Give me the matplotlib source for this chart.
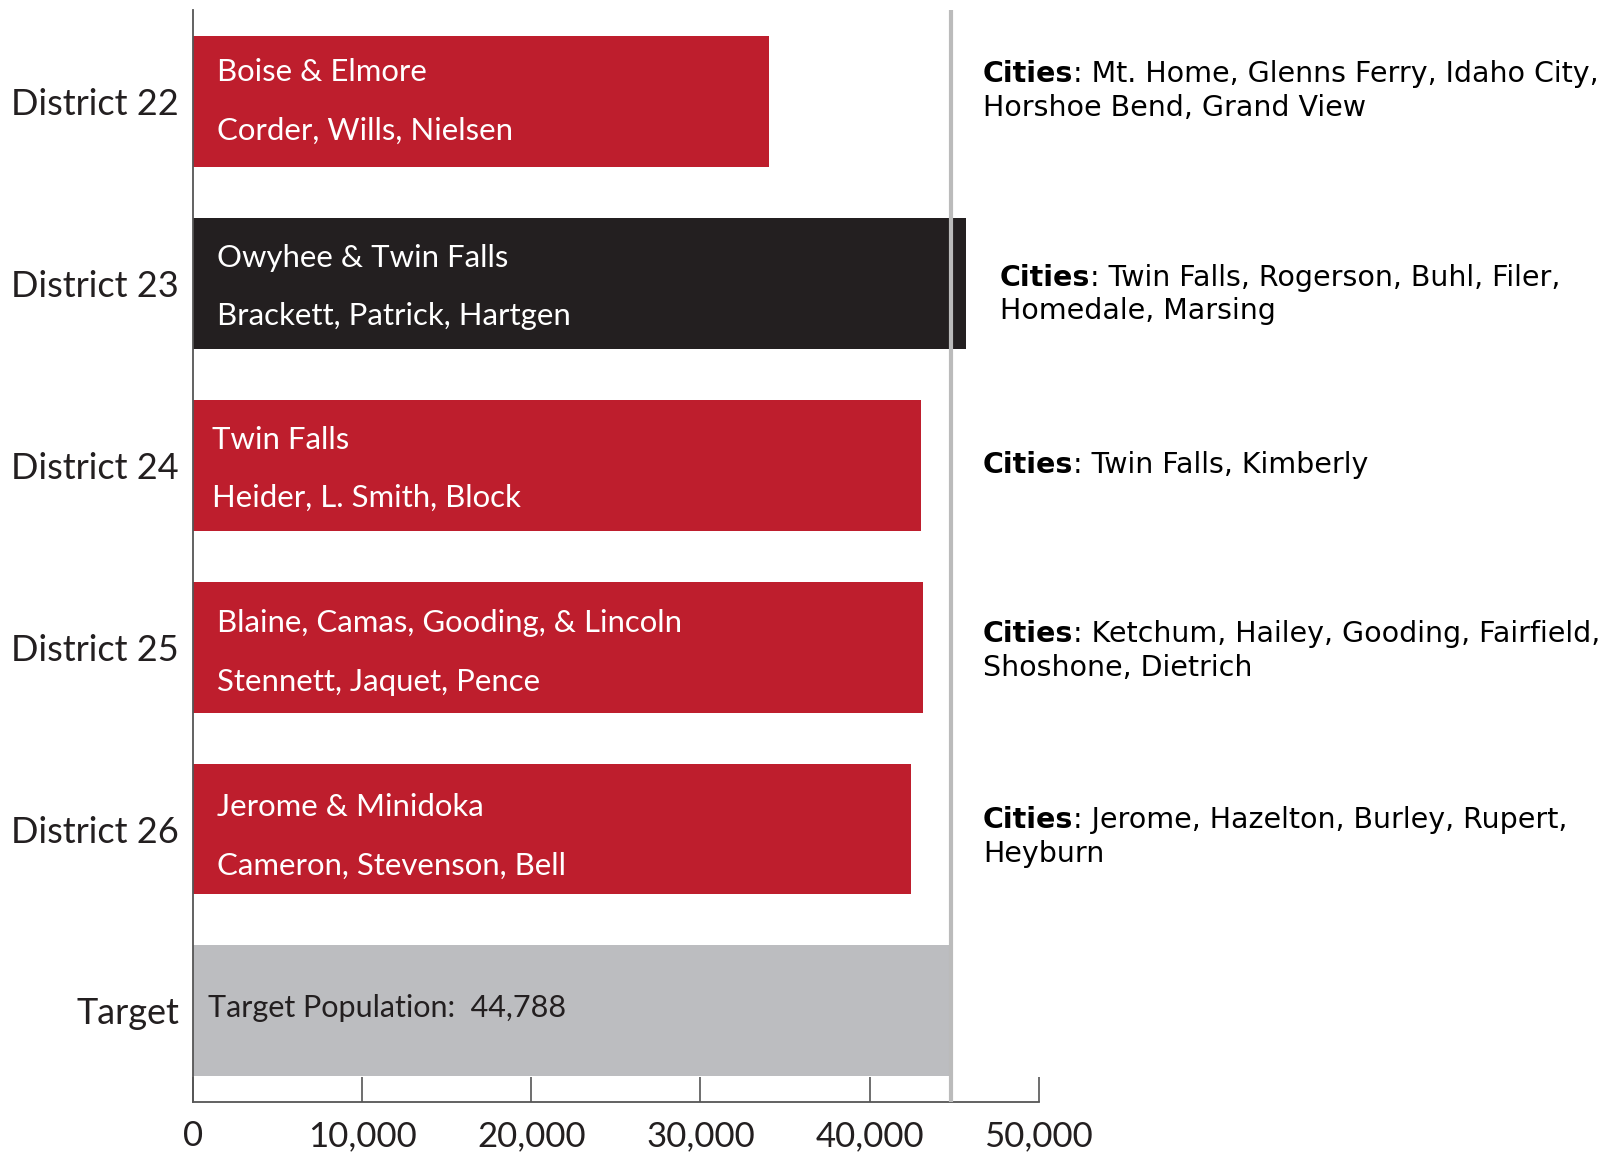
import matplotlib
matplotlib.use("Agg")
import matplotlib.pyplot as plt

# data
districts = ["District 22", "District 23", "District 24", "District 25", "District 26", "Target"]
population = [34050, 45700, 43050, 43150, 42450, 44788]
counties = ["Boise & Elmore", "Owyhee & Twin Falls", "Twin Falls",
            "Blaine, Camas, Gooding, & Lincoln", "Jerome & Minidoka"]
legislators = ["Corder, Wills, Nielsen", "Brackett, Patrick, Hartgen", "Heider, L. Smith, Block",
               "Stennett, Jaquet, Pence", "Cameron, Stevenson, Bell"]
cities = ["Mt. Home, Glenns Ferry, Idaho City,\nHorshoe Bend, Grand View",
          "Twin Falls, Rogerson, Buhl, Filer,\nHomedale, Marsing",
          "Twin Falls, Kimberly",
          "Ketchum, Hailey, Gooding, Fairfield,\nShoshone, Dietrich",
          "Jerome, Hazelton, Burley, Rupert,\nHeyburn"]
target = 44788
ticks = [0, 10000, 20000, 30000, 40000, 50000]
tick_labels = ["0", "10,000", "20,000", "30,000", "40,000", "50,000"]

narrow = ["Lato", "DejaVu Sans"]
red, black, grey = "#BE1E2D", "#231F20", "#BCBDC0"
colors = [red, black, red, red, red, grey]

fig = plt.figure(figsize=(16.08, 11.55), dpi=100)
ax = fig.add_axes([0.120, 0.046, 0.526, 0.945])

y = list(range(len(districts)))
ax.barh(y, population, height=0.72, color=colors, zorder=2)
ax.axvline(target, color="#BBBBBB", lw=3, zorder=3)
ax.set_xlim(0, 50000)
ax.set_ylim(5.5, -0.5)

# text inside bars
bar_shift = [0.0, 0.02, 0.02, 0.03, 0.04]
for i in range(len(counties)):
    x0 = 1150 if i == 2 else 1400
    ax.text(x0, i - 0.16 + bar_shift[i], counties[i], color="white", fontsize=22.4,
            family=narrow, va="center", ha="left", zorder=4)
    ax.text(x0, i + 0.16 + bar_shift[i], legislators[i], color="white", fontsize=22.4,
            family=narrow, va="center", ha="left", zorder=4)
ax.text(900, 4.983, "Target Population:  44,788", color="#231F20", fontsize=22,
        family=narrow, va="center", ha="left", zorder=4)

# cities text on the right
offsets = [-0.058, 0.062, 0, 0.022, 0.042]
for i in range(len(cities)):
    x0 = 47700 if i == 1 else 46700
    lines = cities[i].split("\n")
    dy = 0.093 if len(lines) > 1 else 0
    yc = i + offsets[i]
    lab = ax.text(x0, yc - dy, "Cities", fontsize=20.5, fontweight="bold",
                  family="DejaVu Sans", va="center", ha="left")
    ax.annotate(": " + lines[0], xy=(1, 0.5), xycoords=lab, fontsize=20.5,
                family="DejaVu Sans", va="center", ha="left")
    if len(lines) > 1:
        ax.text(x0, yc + dy, lines[1], fontsize=20.5,
                family="DejaVu Sans", va="center", ha="left")

ax.set_yticks(y)
ax.set_yticklabels(districts, fontsize=26, family=narrow, color="#231F20")
ax.tick_params(axis="y", length=0, pad=10)
ax.set_xticks(ticks)
ax.set_xticklabels(tick_labels, fontsize=25, family=narrow, color="#231F20")
ax.tick_params(axis="x", direction="in", length=18, width=1.2, color="#555555", pad=13)

for s in ["top", "right"]:
    ax.spines[s].set_visible(False)
for s in ["left", "bottom"]:
    ax.spines[s].set_color("#555555")
    ax.spines[s].set_linewidth(1.3)

fig.savefig("out.png", dpi=100)
